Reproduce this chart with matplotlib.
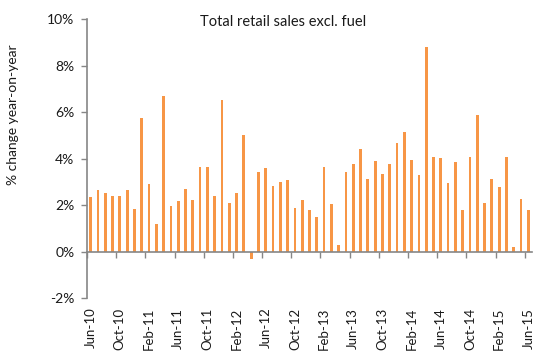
import matplotlib
matplotlib.use("Agg")
import matplotlib.pyplot as plt
import numpy as np

# Monthly % change year-on-year, Jun-10 .. Jun-15 (61 months)
values = [
    2.33, 2.63, 2.52, 2.40, 2.40, 2.63, 1.85, 5.75, 2.93, 1.19,
    6.70, 1.98, 2.17, 2.69, 2.23, 3.65, 3.65, 2.40, 6.52, 2.09,
    2.52, 5.03, -0.34, 3.42, 3.59, 2.82, 3.00, 3.06, 1.87, 2.23,
    1.80, 1.50, 3.65, 2.03, 0.29, 3.42, 3.78, 4.43, 3.12, 3.90,
    3.35, 3.78, 4.67, 5.15, 3.95, 3.29, 8.82, 4.08, 4.02, 2.94,
    3.85, 1.81, 4.08, 5.89, 2.10, 3.13, 2.77, 4.08, 0.20, 2.28,
    1.81,
]
tick_labels = ["Jun-10", "Oct-10", "Feb-11", "Jun-11", "Oct-11", "Feb-12",
               "Jun-12", "Oct-12", "Feb-13", "Jun-13", "Oct-13", "Feb-14",
               "Jun-14", "Oct-14", "Feb-15", "Jun-15"]
yticks = [-2, 0, 2, 4, 6, 8, 10]
title = "Total retail sales excl. fuel"
ylabel = "% change year-on-year"

plt.rcParams['font.family'] = ['Lato', 'DejaVu Sans']
text_color = '#1a1a1a'
axis_color = '#868686'
bar_color = '#F79646'

W, H = 550, 352
fig = plt.figure(figsize=(W / 100, H / 100), dpi=100)
ax = fig.add_axes([87 / W, 1 - 298 / H, 445 / W, (298 - 19.3) / H])

x = np.arange(len(values))
ax.bar(x, values, width=0.38, color=bar_color, zorder=2)

ax.set_xlim(-0.5, len(values) - 0.5)
ax.set_ylim(-2, 10)
ax.set_yticks(yticks)
ax.set_yticklabels([f"{v}%" for v in yticks], fontsize=10, color=text_color)

for s in ['top', 'right']:
    ax.spines[s].set_visible(False)
ax.spines['left'].set_color(axis_color)
ax.spines['left'].set_linewidth(1.2)
ax.spines['bottom'].set_position(('data', 0))
ax.spines['bottom'].set_color(axis_color)
ax.spines['bottom'].set_linewidth(1.2)
ax.tick_params(axis='y', direction='out', length=4, width=1, color=axis_color, pad=5)

# tick marks at category boundaries on the zero line
bounds = np.arange(-0.5, len(values) - 1, 4)
ax.set_xticks(bounds)
ax.tick_params(axis='x', direction='out', length=4, width=1, color=axis_color,
               labelbottom=False)

# labels at the bottom of the plot
sec = ax.secondary_xaxis('bottom')
sec.set_xticks(x[::4])
sec.set_xticklabels(tick_labels, rotation=90, fontsize=9.5, color=text_color)
sec.tick_params(length=0, pad=7)
sec.spines['bottom'].set_visible(False)

fig.text(283.5 / W, 1 - 22.5 / H, title, ha='center', va='center',
         fontsize=10.5, color=text_color)
fig.text(13.5 / W, 1 - 114.5 / H, ylabel, rotation=90, ha='center', va='center',
         fontsize=10, color=text_color)

fig.savefig("out.png", dpi=100)
